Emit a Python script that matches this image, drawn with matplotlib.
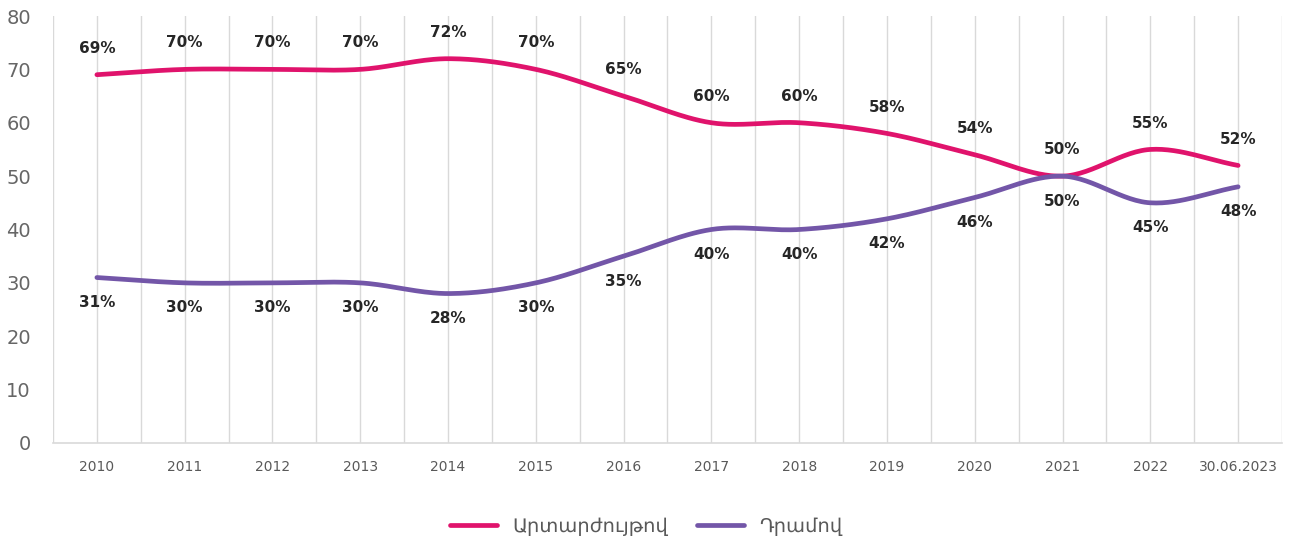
import numpy as np
import matplotlib
matplotlib.use("Agg")
import matplotlib.pyplot as plt
from matplotlib.lines import Line2D

categories = ["2010", "2011", "2012", "2013", "2014", "2015", "2016", "2017",
              "2018", "2019", "2020", "2021", "2022", "30.06.2023"]
foreign = [69, 70, 70, 70, 72, 70, 65, 60, 60, 58, 54, 50, 55, 52]
dram = [31, 30, 30, 30, 28, 30, 35, 40, 40, 42, 46, 50, 45, 48]
series_names = ["Արտարժույթով", "Դրամով"]
yticks = [0, 10, 20, 30, 40, 50, 60, 70, 80]

PINK = "#E0136C"
PURPLE = "#7356A8"
GRID = "#D9D9D9"

plt.rcParams['font.family'] = ['DejaVu Sans']


def catmull_rom(x, y, n=30):
    x = np.asarray(x, float)
    y = np.asarray(y, float)
    px = np.concatenate([[2 * x[0] - x[1]], x, [2 * x[-1] - x[-2]]])
    py = np.concatenate([[2 * y[0] - y[1]], y, [2 * y[-1] - y[-2]]])
    xs, ys = [], []
    for i in range(1, len(px) - 2):
        t = np.linspace(0, 1, n, endpoint=False)
        for arr, out in ((px, xs), (py, ys)):
            p0, p1, p2, p3 = arr[i - 1], arr[i], arr[i + 1], arr[i + 2]
            out.append(0.5 * ((2 * p1) + (-p0 + p2) * t +
                              (2 * p0 - 5 * p1 + 4 * p2 - p3) * t ** 2 +
                              (-p0 + 3 * p1 - 3 * p2 + p3) * t ** 3))
    xs.append([x[-1]])
    ys.append([y[-1]])
    return np.concatenate(xs), np.concatenate(ys)


fig = plt.figure(figsize=(12.93, 5.43), dpi=100)
ax = fig.add_axes([53 / 1293, 100 / 543, (1282 - 53) / 1293, (443 - 16) / 543])

xpos = np.arange(len(categories))
for xv in np.arange(-0.5, len(categories), 0.5):
    ax.axvline(xv, color=GRID, lw=1.0, zorder=0)

for vals, col in ((foreign, PINK), (dram, PURPLE)):
    sx, sy = catmull_rom(xpos, vals)
    ax.plot(sx, sy, color=col, lw=3.4, solid_capstyle='round', zorder=3)

for i, v in enumerate(foreign):
    ax.annotate(f"{v}%", (xpos[i], v), xytext=(0, 19), textcoords='offset points',
                ha='center', va='center', fontsize=11, fontweight='bold', color='#262626')
for i, v in enumerate(dram):
    ax.annotate(f"{v}%", (xpos[i], v), xytext=(0, -18), textcoords='offset points',
                ha='center', va='center', fontsize=11, fontweight='bold', color='#262626')

ax.set_xlim(-0.5, len(categories) - 0.5)
ax.set_ylim(0, 80)
ax.set_yticks(yticks)
ax.set_yticklabels([str(t) for t in yticks], fontsize=14, color='#666666')
ax.set_xticks(xpos)
ax.set_xticklabels(categories, fontsize=10, color='#595959')
ax.tick_params(axis='both', length=0)
ax.tick_params(axis='x', pad=12)
ax.tick_params(axis='y', pad=16)
for s in ('top', 'right', 'left'):
    ax.spines[s].set_visible(False)
ax.spines['bottom'].set_color(GRID)
ax.spines['bottom'].set_linewidth(1.2)

handles = [Line2D([0], [0], color=PINK, lw=3.4, solid_capstyle='round'),
           Line2D([0], [0], color=PURPLE, lw=3.4, solid_capstyle='round')]
fig.legend(handles, series_names, loc='center', bbox_to_anchor=(0.5, 17 / 543),
           ncol=2, frameon=False, fontsize=14, labelcolor='#595959',
           handlelength=2.4, columnspacing=1.5)

fig.savefig("out.png", dpi=100)
